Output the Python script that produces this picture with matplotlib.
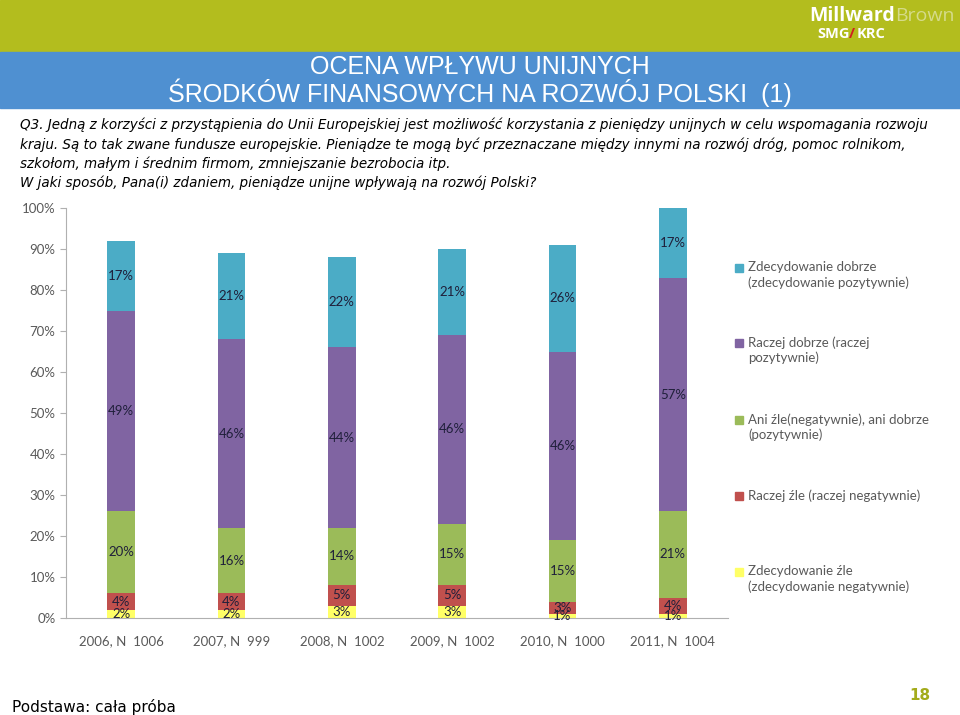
import matplotlib.pyplot as plt
from matplotlib.patches import Rectangle
import numpy as np

# data
years = ["2006, N  1006", "2007, N  999", "2008, N  1002",
         "2009, N  1002", "2010, N  1000", "2011, N  1004"]
zdec_zle = [2, 2, 3, 3, 1, 1]
raczej_zle = [4, 4, 5, 5, 3, 4]
ani = [20, 16, 14, 15, 15, 21]
raczej_dobrze = [49, 46, 44, 46, 46, 57]
zdec_dobrze = [17, 21, 22, 21, 26, 17]

series = [zdec_zle, raczej_zle, ani, raczej_dobrze, zdec_dobrze]
names = ["Zdecydowanie źle\n(zdecydowanie negatywnie)",
         "Raczej źle (raczej negatywnie)",
         "Ani źle(negatywnie), ani dobrze\n(pozytywnie)",
         "Raczej dobrze (raczej\npozytywnie)",
         "Zdecydowanie dobrze\n(zdecydowanie pozytywnie)"]
colors = ["#FFFF66", "#C0504D", "#9BBB59", "#8064A2", "#4BACC6"]

question = ("Q3. Jedną z korzyści z przystąpienia do Unii Europejskiej jest możliwość korzystania z pieniędzy unijnych w celu wspomagania rozwoju\n"
            "kraju. Są to tak zwane fundusze europejskie. Pieniądze te mogą być przeznaczane między innymi na rozwój dróg, pomoc rolnikom,\n"
            "szkołom, małym i średnim firmom, zmniejszanie bezrobocia itp.\n"
            "W jaki sposób, Pana(i) zdaniem, pieniądze unijne wpływają na rozwój Polski?")

fig = plt.figure(figsize=(9.6, 7.15), dpi=100)
W, H = 960, 715

# header bands
fig.patches.append(Rectangle((0, 1 - 52 / H), 1, 52 / H, transform=fig.transFigure,
                             color="#B3BD1E", zorder=0))
fig.patches.append(Rectangle((0, 1 - 108 / H), 1, 56 / H, transform=fig.transFigure,
                             color="#4F90D1", zorder=0))
fig.text(0.5, 1 - 81 / H, "OCENA WPŁYWU UNIJNYCH\nŚRODKÓW FINANSOWYCH NA ROZWÓJ POLSKI  (1)",
         ha="center", va="center", color="white", fontsize=18,
         family="Liberation Sans", linespacing=0.95)

# logo
fig.text(895 / W, 1 - 16 / H, "Millward", ha="right", va="center", color="white",
         fontsize=14, fontweight="bold", family="Open Sans")
fig.text(895 / W, 1 - 16 / H, "Brown", ha="left", va="center", color="#D5DB8A",
         fontsize=14, family="Open Sans")
fig.text(817 / W, 1 - 34 / H, "SMG", ha="left", va="center", color="white",
         fontsize=10.5, fontweight="bold", family="Open Sans")
fig.text(849 / W, 1 - 34 / H, "/", ha="left", va="center", color="#D02020",
         fontsize=10.5, fontweight="bold", family="Open Sans")
fig.text(857 / W, 1 - 34 / H, "KRC", ha="left", va="center", color="white",
         fontsize=10.5, fontweight="bold", family="Open Sans")

# question
fig.text(20 / W, 1 - 118 / H, question, ha="left", va="top", fontsize=9.75,
         style="italic", family="DejaVu Sans", color="black", linespacing=1.4)

# chart
ax = fig.add_axes([66 / W, 1 - 618 / H, 662 / W, 410 / H])
x = np.arange(len(years))
bottom = np.zeros(len(years))
for vals, c in zip(series, colors):
    vals = np.array(vals)
    ax.bar(x, vals, 0.25, bottom=bottom, color=c, zorder=2)
    for xi, b, v in zip(x, bottom, vals):
        ax.text(xi, b + v / 2, f"{v}%", ha="center", va="center",
                fontsize=9.5, color="#1F1F3A", family="Lato")
    bottom += vals

ax.set_xlim(-0.5, len(years) - 0.5)
ax.set_ylim(0, 100)
ax.set_yticks(np.arange(0, 101, 10))
ax.set_yticklabels([f"{t}%" for t in range(0, 101, 10)])
ax.set_xticks(x)
ax.set_xticklabels(years)
for s in ["top", "right"]:
    ax.spines[s].set_visible(False)
for s in ["left", "bottom"]:
    ax.spines[s].set_color("#B0B0B0")
ax.tick_params(axis="y", colors="#B0B0B0", labelcolor="#595959", length=4,
               labelsize=9.5)
ax.tick_params(axis="x", length=0, pad=12, labelcolor="#595959", labelsize=9.5)
for lbl in ax.get_xticklabels() + ax.get_yticklabels():
    lbl.set_family("Lato")

# legend
leg_y = [268, 343, 420, 496, 572]
for yy, name, c in zip(leg_y, names[::-1], colors[::-1]):
    fig.patches.append(Rectangle((735 / W, 1 - (yy + 4) / H), 8 / W, 8 / H,
                                 transform=fig.transFigure, color=c))
    fig.text(748 / W, 1 - (yy - 7) / H, name, ha="left", va="top", fontsize=9.5,
             color="#595959", family="Lato", linespacing=1.3,
             transform=fig.transFigure)

# footer
fig.text(12 / W, 1 - 707 / H, "Podstawa: cała próba", ha="left", va="center",
         fontsize=11, family="DejaVu Sans")
fig.text(930 / W, 1 - 695 / H, "18", ha="right", va="center", fontsize=11,
         fontweight="bold", color="#A3AB1B", family="DejaVu Sans")

fig.savefig("out.png", dpi=100)
